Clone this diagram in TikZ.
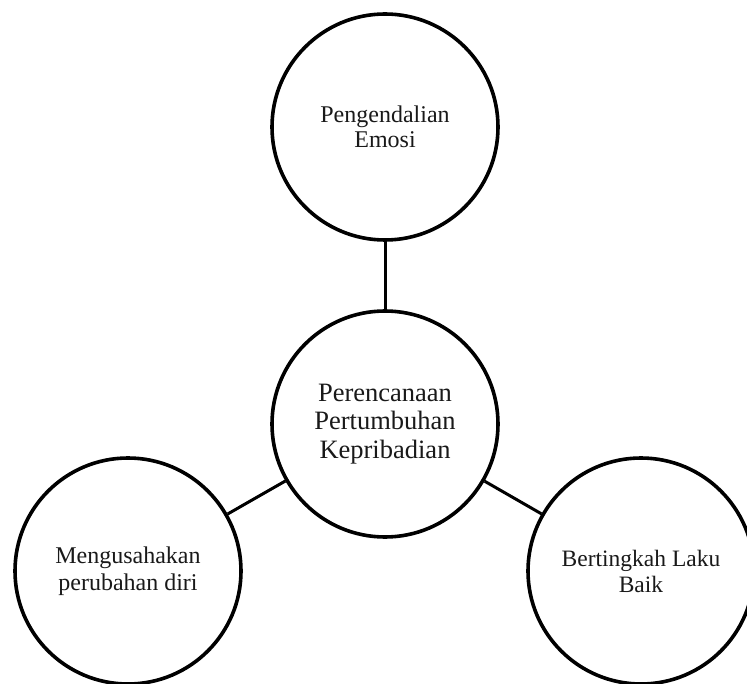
\documentclass[tikz,border=0pt]{standalone}
\usepackage{fontspec}
\setmainfont{Liberation Serif}
\tikzset{
  bubble/.style={circle, draw=black, line width=3.6pt, minimum size=226pt, inner sep=0pt, align=center, text=black!90},
  link/.style={draw=black, line width=3pt}
}
\begin{document}
\begin{tikzpicture}[x=1pt,y=-1pt]
\useasboundingbox (0,0) rectangle (747,684);
\node[bubble, font=\fontsize{24}{25.5}\selectfont] (top) at (385,127) {Pengendalian\\Emosi};
\node[bubble, font=\fontsize{26.5}{28.5}\selectfont] (mid) at (385,424) {Perencanaan\\Pertumbuhan\\Kepribadian};
\node[bubble, font=\fontsize{24}{27}\selectfont] (left) at (128,571) {Mengusahakan\\perubahan diri};
\node[bubble, font=\fontsize{23.5}{26}\selectfont] (right) at (641,571) {Bertingkah Laku\\Baik};
\draw[link] (top) -- (mid);
\draw[link] (mid) -- (left);
\draw[link] (mid) -- (right);
\end{tikzpicture}
\end{document}
